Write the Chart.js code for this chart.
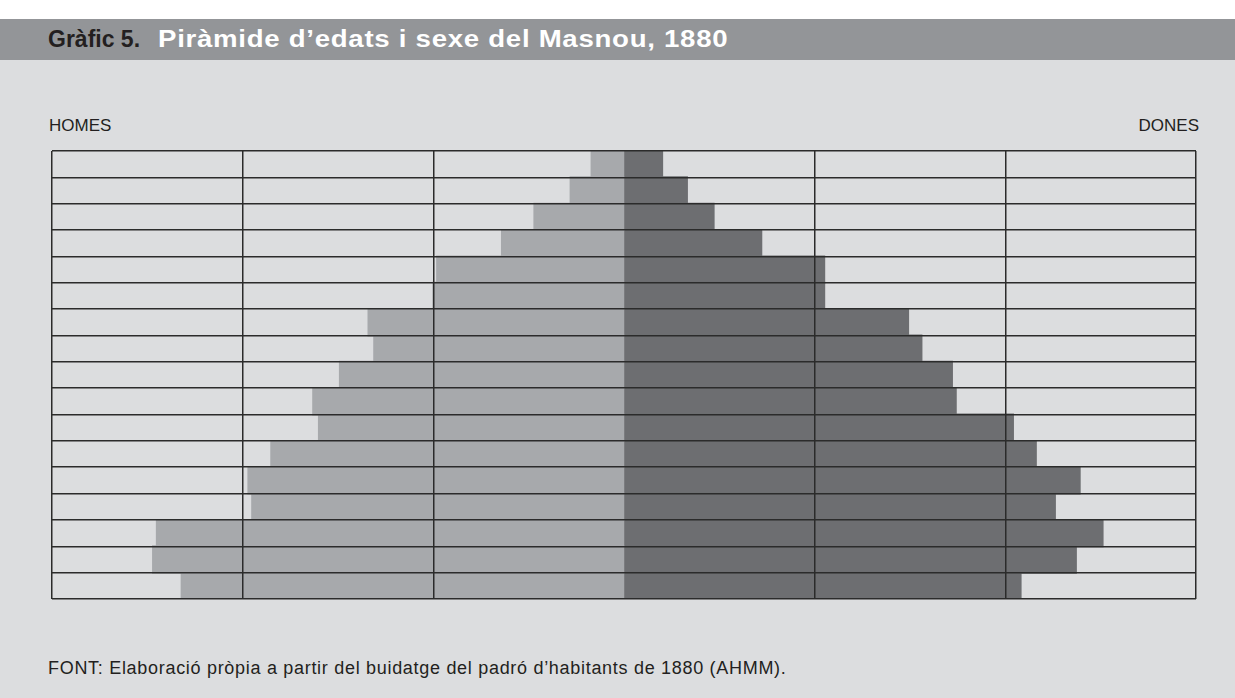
<!DOCTYPE html>
<html>
<head>
<meta charset="utf-8">
<script src="https://cdn.jsdelivr.net/npm/chart.js@4.4.0/dist/chart.umd.min.js"></script>
<style>
  html, body { margin: 0; padding: 0; }
  body { width: 1235px; height: 698px; background: #dcdddf; position: relative; overflow: hidden;
         font-family: "Liberation Sans", Arial, sans-serif; }
  #top { position: absolute; left: 0; top: 0; width: 1235px; height: 19px; background: #ffffff; }
  #header { position: absolute; left: 0; top: 19px; width: 1235px; height: 41px; background: #939598; }
  #num { position: absolute; left: 48px; top: 26px; font-size: 23px; font-weight: bold; color: #231f20; }
  #title { position: absolute; left: 158px; top: 26px; font-size: 23px; font-weight: bold; color: #ffffff;
           letter-spacing: 0.6px; transform: scaleX(1.2); transform-origin: left top; white-space: nowrap; }
  .side { position: absolute; top: 116px; font-size: 17px; color: #231f20; }
  #homes { left: 49px; }
  #dones { right: 36px; }
  #font { position: absolute; left: 48px; top: 658px; font-size: 18px; letter-spacing: 0.7px;
          color: #231f20; white-space: nowrap; }
  #chart { position: absolute; left: 42px; top: 141px; }
</style>
</head>
<body>
<div id="top"></div>
<div id="header"></div>
<div id="num">Gràfic 5.</div>
<div id="title">Piràmide d’edats i sexe del Masnou, 1880</div>
<div class="side" id="homes">HOMES</div>
<div class="side" id="dones">DONES</div>
<canvas id="chart" width="1164" height="468"></canvas>
<div id="font">FONT: Elaboració pròpia a partir del buidatge del padró d’habitants de 1880 (AHMM).</div>
<script>
  // Age groups, oldest at the top
  const ageGroups = ['80 i més', '75-79', '70-74', '65-69', '60-64', '55-59', '50-54', '45-49',
                     '40-44', '35-39', '30-34', '25-29', '20-24', '15-19', '10-14', '5-9', '0-4'];

  // Men (drawn to the left) and women (to the right)
  const homes = [17, 28, 47, 64, 98, 100, 134, 131, 149, 163, 160, 185, 197, 195, 245, 247, 232];
  const dones = [20, 33, 47, 72, 105, 105, 149, 156, 172, 174, 204, 216, 239, 226, 251, 237, 208];

  // Axis ticks (each side has three grid steps)
  const xTicks = [-300, -200, -100, 0, 100, 200, 300];

  const lineColor = '#2b2b2b';

  const ctx = document.getElementById('chart').getContext('2d');

  new Chart(ctx, {
    type: 'bar',
    data: {
      labels: ageGroups,
      datasets: [
        {
          label: 'Homes',
          data: homes.map(v => -v),
          backgroundColor: '#a7a9ac',
          borderWidth: 0,
          inflateAmount: 1
        },
        {
          label: 'Dones',
          data: dones,
          backgroundColor: '#6d6e71',
          borderWidth: 0,
          inflateAmount: 1
        }
      ]
    },
    options: {
      indexAxis: 'y',
      responsive: false,
      animation: false,
      layout: { padding: 10 },
      plugins: {
        legend: { display: false },
        tooltip: { enabled: false }
      },
      datasets: {
        bar: { barPercentage: 1, categoryPercentage: 1 }
      },
      scales: {
        x: {
          type: 'linear',
          stacked: true,
          min: xTicks[0],
          max: xTicks[xTicks.length - 1],
          afterBuildTicks: scale => { scale.ticks = xTicks.map(v => ({ value: v })); },
          ticks: { display: false },
          grid: {
            z: 1,
            drawTicks: false,
            lineWidth: 1.5,
            color: c => (c.tick && c.tick.value === 0) ? 'rgba(0,0,0,0)' : lineColor
          },
          border: { display: false }
        },
        y: {
          stacked: true,
          ticks: { display: false },
          grid: {
            z: 1,
            offset: true,
            drawTicks: false,
            lineWidth: 1.5,
            color: lineColor
          },
          border: { display: false }
        }
      }
    }
  });
</script>
</body>
</html>
